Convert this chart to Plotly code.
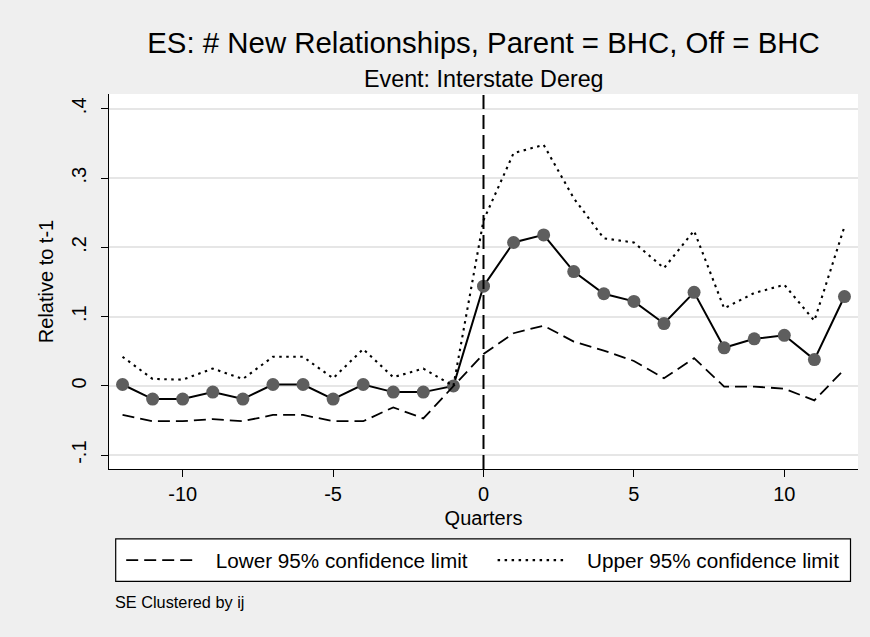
import plotly.graph_objects as go

# Event-study estimates by quarter relative to the event
quarters = list(range(-12, 13))
coef = [0.002, -0.019, -0.019, -0.009, -0.019, 0.002, 0.002, -0.019, 0.002, -0.009, -0.009, 0.0,
        0.144, 0.207, 0.218, 0.165, 0.133, 0.122, 0.090, 0.135, 0.055, 0.068, 0.073, 0.038, 0.129]
lower = [-0.042, -0.051, -0.051, -0.048, -0.051, -0.042, -0.042, -0.051, -0.051, -0.031, -0.047, 0.0,
         0.046, 0.076, 0.087, 0.064, 0.051, 0.036, 0.011, 0.040, -0.001, -0.001, -0.004, -0.021, 0.024]
upper = [0.042, 0.010, 0.009, 0.025, 0.010, 0.042, 0.042, 0.011, 0.053, 0.0125, 0.025, 0.0,
         0.239, 0.336, 0.348, 0.271, 0.213, 0.207, 0.170, 0.224, 0.112, 0.134, 0.146, 0.094, 0.230]

x_tickvals = [-10, -5, 0, 5, 10]
x_ticktext = ["-10", "-5", "0", "5", "10"]
y_tickvals = [-0.1, 0, 0.1, 0.2, 0.3, 0.4]
y_ticktext = ["-.1", "0", ".1", ".2", ".3", ".4"]

W, H = 870, 637
ML, MR, MT, MB = 109.3, 11.5, 94, 167.7
PW, PH = W - ML - MR, H - MT - MB


def px_x(px):
    return (px - ML) / PW


def px_y(py):
    return (H - MB - py) / PH


FONT = "Liberation Sans, Arial, Helvetica, sans-serif"
BG = "#efefef"
GAP = "\u2002\u2009"  # spacing between legend key and label

fig = go.Figure()

fig.add_trace(go.Scatter(
    x=quarters, y=coef, mode="lines+markers", showlegend=False,
    line=dict(color="black", width=2),
    marker=dict(color="#5e5e5e", size=13),
))
fig.add_trace(go.Scatter(
    x=quarters, y=lower, mode="lines", name=GAP + "Lower 95% confidence limit",
    line=dict(color="black", width=1.8, dash="12px,6px"), legend="legend",
))
fig.add_trace(go.Scatter(
    x=quarters, y=upper, mode="lines", name=GAP + "Upper 95% confidence limit",
    line=dict(color="black", width=2.1, dash="2.5px,4.5px"), legend="legend2",
))

legend_style = dict(
    orientation="h", bgcolor="rgba(0,0,0,0)", borderwidth=0,
    font=dict(family=FONT, size=20.7, color="black"),
    itemwidth=70, yanchor="middle", xanchor="left", y=px_y(560.5),
)

fig.update_layout(
    width=W, height=H,
    margin=dict(l=ML, r=MR, t=MT, b=MB, autoexpand=False),
    paper_bgcolor=BG, plot_bgcolor="white",
    font=dict(family=FONT, color="black"),
    title=dict(
        text="ES: # New Relationships, Parent = BHC, Off = BHC",
        font=dict(family=FONT, size=29.4, color="black"),
        x=0.5, xref="paper", xanchor="center",
        y=1 - 43 / H, yref="container", yanchor="middle",
    ),
    xaxis=dict(
        range=[-12.45, 12.45], tickvals=x_tickvals, ticktext=x_ticktext,
        showgrid=False, zeroline=False,
        showline=True, linecolor="black", linewidth=1.2,
        ticks="outside", ticklen=7, tickcolor="black", tickwidth=1.2,
        tickfont=dict(family=FONT, size=20, color="black"),
        title=dict(text="Quarters", font=dict(family=FONT, size=20, color="black"), standoff=6),
    ),
    yaxis=dict(
        range=[-0.120, 0.4214], tickvals=y_tickvals, ticktext=y_ticktext,
        tickangle=-90, ticklabelstandoff=7,
        showgrid=True, gridcolor="#e6e6e6", gridwidth=1.5, zeroline=False,
        showline=True, linecolor="black", linewidth=1.2,
        ticks="outside", ticklen=7, tickcolor="black", tickwidth=1.2,
        tickfont=dict(family=FONT, size=20, color="black"),
        title=dict(text="Relative to t-1", font=dict(family=FONT, size=20, color="black"), standoff=8),
    ),
    legend=dict(legend_style, x=px_x(121.5)),
    legend2=dict(legend_style, x=px_x(493)),
    shapes=[
        dict(type="line", xref="x", yref="paper", x0=0, x1=0, y0=0, y1=1,
             line=dict(color="black", width=2, dash="14px,6px")),
        dict(type="rect", xref="paper", yref="paper",
             x0=px_x(116), x1=px_x(851), y0=px_y(581.7), y1=px_y(539.3),
             line=dict(color="black", width=1.2), fillcolor="white", layer="below"),
    ],
    annotations=[
        dict(text="Event: Interstate Dereg", xref="paper", yref="paper",
             x=0.5, y=px_y(79), xanchor="center", yanchor="middle", showarrow=False,
             font=dict(family=FONT, size=23.3, color="black")),
        dict(text="SE Clustered by ij", xref="paper", yref="paper",
             x=px_x(113), y=px_y(602.7), xanchor="left", yanchor="middle", showarrow=False,
             font=dict(family=FONT, size=16.3, color="black")),
    ],
)

fig.write_html("out.html")
